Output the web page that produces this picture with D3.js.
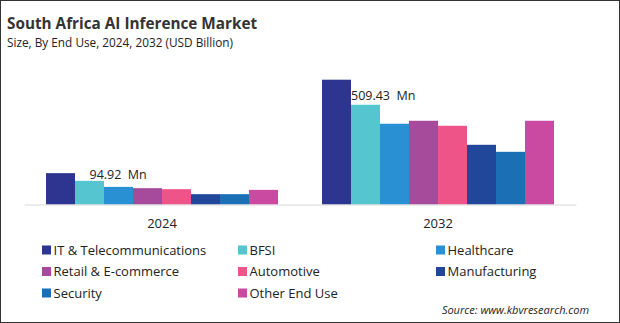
<!DOCTYPE html>
<html>
<head>
<meta charset="utf-8">
<script src="https://cdn.jsdelivr.net/npm/d3@7"></script>
<style>
  body { margin: 0; background: #fff; }
  svg { display: block; font-family: "Open Sans", sans-serif; }
</style>
</head>
<body>
<svg id="chart" width="620" height="323"></svg>
<script>
// data
const years = ['2024', '2032'];
const endUses = ['IT & Telecommunications', 'BFSI', 'Healthcare', 'Retail & E-commerce',
  'Automotive', 'Manufacturing', 'Security', 'Other End Use'];
const values2024 = [160.1, 120.7, 90.0, 83.4, 78.3, 52.7, 52.7, 74.7];
const values2032 = [637.3, 509.43, 412.3, 427.6, 402.0, 304.9, 269.0, 427.6];
const barLabels = ['94.92  Mn', '509.43  Mn']; // shown on the BFSI bar
const colors = ['#2d3590', '#55c5d0', '#2990d3', '#a64a9c', '#ef5489', '#20479a', '#1b6fb5', '#c94aa0'];

const W = 620, H = 323;
const svg = d3.select('#chart');

svg.append('rect').attr('x', 0.5).attr('y', 0.5).attr('width', W - 1).attr('height', H - 1)
  .attr('fill', '#fff').attr('stroke', '#333');

svg.append('text').text('South Africa AI Inference Market')
  .attr('x', 7).attr('y', 29).attr('font-size', 15.3).attr('font-weight', 'bold').attr('fill', '#333');
svg.append('text').text('Size, By End Use, 2024, 2032 (USD Billion)')
  .attr('x', 7).attr('y', 47).attr('font-size', 11.8).attr('fill', '#222');

const rows = years.map((y, i) => ({ year: y, vals: i === 0 ? values2024 : values2032 }));

const x0 = d3.scaleBand().domain(years).range([24, 576]);
const groupW = 232;
const x1 = d3.scaleBand().domain(endUses).range([0, groupW]);
const y = d3.scaleLinear().domain([0, 637.3]).range([204.5, 79.7]);
const color = d3.scaleOrdinal().domain(endUses).range(colors);

const g = svg.append('g').selectAll('g').data(rows).join('g')
  .attr('transform', d => `translate(${x0(d.year) + (x0.bandwidth() - groupW) / 2},0)`);

g.selectAll('rect').data(d => d.vals.map((v, i) => ({ key: endUses[i], v })))
  .join('rect')
  .attr('x', d => x1(d.key)).attr('width', x1.bandwidth())
  .attr('y', d => y(d.v)).attr('height', d => y(0) - y(d.v))
  .attr('fill', d => color(d.key));

// value labels on BFSI
g.append('text')
  .text((d, i) => barLabels[i])
  .attr('x', (d, i) => x1('BFSI') + (i === 0 ? x1.bandwidth() / 2 : 0))
  .attr('y', d => y(d.vals[1]) - (d.year === '2024' ? 1.5 : 5))
  .attr('font-size', 12.5).attr('fill', '#222').style('white-space', 'pre');

// axis
const axis = svg.append('g').attr('transform', `translate(0,${y(0)})`)
  .call(d3.axisBottom(x0).tickSize(0).tickPadding(14));
axis.select('.domain').attr('stroke', '#d9d9d9');
axis.selectAll('text').attr('font-size', 13).attr('fill', '#222').attr('font-family', '"Open Sans", sans-serif');

// legend
const legX = [42, 238, 436], legY = [250, 271.5, 293];
const leg = svg.append('g').selectAll('g').data(endUses).join('g')
  .attr('transform', (d, i) => `translate(${legX[i % 3]},${legY[Math.floor(i / 3)]})`);
leg.append('rect').attr('x', 0).attr('y', -4.5).attr('width', 9).attr('height', 9).attr('fill', d => color(d));
leg.append('text').text(d => d).attr('x', 11.5).attr('y', 4.8)
  .attr('font-size', 13).attr('fill', '#222');

svg.append('text').text('Source: www.kbvresearch.com')
  .attr('x', 589).attr('y', 314).attr('text-anchor', 'end')
  .attr('font-size', 11).attr('font-style', 'italic').attr('fill', '#222');
</script>
</body>
</html>
